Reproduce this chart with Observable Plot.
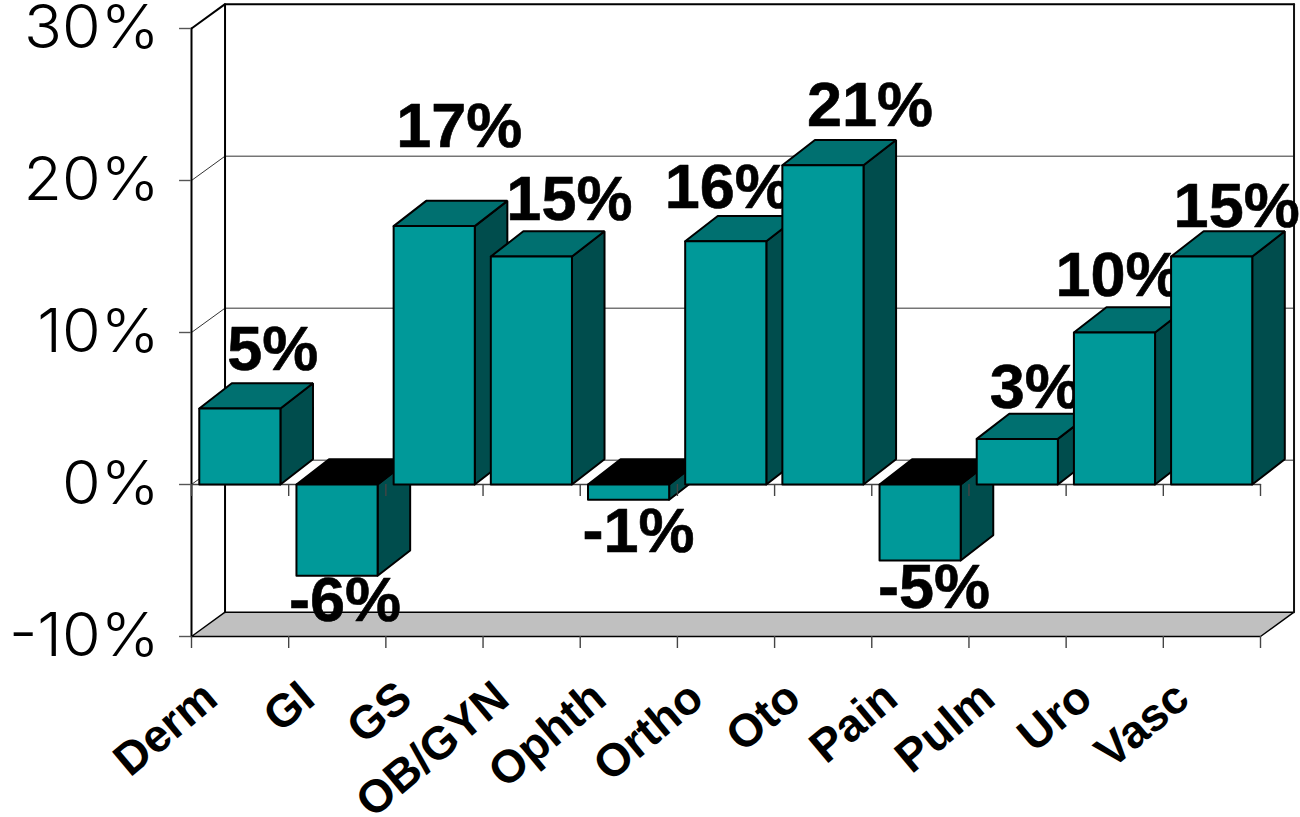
<!DOCTYPE html>
<html>
<head>
<meta charset="utf-8">
<style>
  html, body { margin: 0; padding: 0; background: #fff; }
  svg { display: block; }
</style>
<script src="https://cdn.jsdelivr.net/npm/d3@7"></script>
<script src="https://cdn.jsdelivr.net/npm/@observablehq/plot@0.6"></script>
</head>
<body>
<script>
// Change by specialty, percent
const specialties = ["Derm", "GI", "GS", "OB/GYN", "Ophth", "Ortho", "Oto", "Pain", "Pulm", "Uro", "Vasc"];
const changes = [5, -6, 17, 15, -1, 16, 21, -5, 3, 10, 15];
const axisTicks = [-10, 0, 10, 20, 30];

// Pixel nudges for each bar's value label, [dx, dy]
const labelNudges = [[33, -39], [8, 45], [25, -79], [38, -37], [10, 52], [2, -33], [47, -39], [14, 47], [18, -31], [4, -37], [25, -30]];

// Oblique projection, expressed in scale units
const wallDepth = {x: 0.345, y: 1.6};
const barDepth = {x: 0.335, y: 1.66};
const barInset = 0.08;
const barWidth = 0.835;
const tickX = 0.123;
const tickY = 0.79;
const yMin = axisTicks[0];
const yMax = axisTicks[axisTicks.length - 1];
const xMax = specialties.length;

const colors = {front: "#009999", top: "#007070", side: "#004d4d", floor: "#c0c0c0", under: "#000000"};
const valueFont = {fontFamily: "Liberation Sans", fontWeight: "bold", fontSize: 63, fill: "#000", stroke: "#000", strokeWidth: 0.6};

// A closed polygon face drawn through the chart's x and y scales
const face = (points, fill, strokeWidth = 2) =>
  Plot.line([...points, points[0]], {x: "0", y: "1", fill, stroke: "#000", strokeWidth, strokeLinejoin: "miter", curve: "linear"});

const segment = (points, stroke = "#000", strokeWidth = 1) =>
  Plot.line(points, {x: "0", y: "1", stroke, strokeWidth, curve: "linear"});

// Back walls, floor and gridlines
const frame = [
  face([[0, yMin], [xMax, yMin], [xMax + wallDepth.x, yMin + wallDepth.y], [wallDepth.x, yMin + wallDepth.y]], colors.floor, 1.4),
  ...axisTicks.slice(1, -1).map((t) => segment([[0, t], [wallDepth.x, t + wallDepth.y], [xMax + wallDepth.x, t + wallDepth.y]], "#333", 1)),
  segment([[0, yMax], [wallDepth.x, yMax + wallDepth.y], [xMax + wallDepth.x, yMax + wallDepth.y]], "#000", 2),
  segment([[0, yMin], [0, yMax]], "#000", 2),
  segment([[wallDepth.x, yMin + wallDepth.y], [wallDepth.x, yMax + wallDepth.y]], "#000", 2),
  segment([[xMax + wallDepth.x, yMin + wallDepth.y], [xMax + wallDepth.x, yMax + wallDepth.y]], "#111", 2),
  segment([[0, 0], [xMax, 0]], "#444", 1.4)
];

// Each bar is followed by its label, so the next bar can overlap that label
const bars = specialties.flatMap((name, i) => {
  const v = changes[i];
  const x0 = i + barInset;
  const x1 = x0 + barWidth;
  const dx = barDepth.x;
  const dy = barDepth.y;
  const top = Math.max(v, 0);
  const bottom = Math.min(v, 0);
  return [
    face([[x1, bottom], [x1 + dx, bottom + dy], [x1 + dx, top + dy], [x1, top]], colors.side),
    face([[x0, top], [x1, top], [x1 + dx, top + dy], [x0 + dx, top + dy]], v < 0 ? colors.under : colors.top),
    face([[x0, bottom], [x1, bottom], [x1, top], [x0, top]], colors.front),
    Plot.text([v], {
      x: i + barInset + barWidth / 2,
      y: (d) => d,
      text: (d) => `${d}%`,
      dx: labelNudges[i][0],
      dy: labelNudges[i][1],
      lineAnchor: "bottom",
      ...valueFont
    })
  ];
});

const categoryTicks = d3.range(0, xMax + 1);

const chart = Plot.plot({
  width: 1300,
  height: 817,
  marginLeft: 191,
  marginRight: 40,
  marginTop: 28,
  marginBottom: 181,
  x: {type: "linear", domain: [0, xMax], axis: null},
  y: {type: "linear", domain: [yMin, yMax], axis: null},
  style: {background: "#fff", overflow: "visible"},
  marks: [
    ...frame,
    ...bars,
    // Category ticks on the zero line and below the floor
    Plot.ruleX(categoryTicks, {y1: 0, y2: -tickY, stroke: "#444", strokeWidth: 1.4}),
    Plot.ruleX(categoryTicks, {y1: yMin, y2: yMin - tickY, stroke: "#444", strokeWidth: 1.4}),
    // Value axis ticks and labels
    Plot.ruleY(axisTicks, {x1: -tickX, x2: 0, stroke: "#555", strokeWidth: 1.4}),
    Plot.text(axisTicks, {
      x: 0,
      y: (d) => d,
      text: (d) => `${d}%`,
      dx: -32,
      textAnchor: "end",
      lineAnchor: "middle",
      fontFamily: "Inter",
      fontWeight: 300,
      fontSize: 60,
      fill: "#000",
      className: "value-axis-label"
    }),
    // Slanted category labels
    Plot.text(specialties, {
      x: (d, i) => i + 0.5,
      y: yMin,
      text: (d) => d,
      dx: -20,
      dy: 66,
      rotate: -40,
      textAnchor: "end",
      lineAnchor: "bottom",
      fontFamily: "Liberation Sans",
      fontWeight: "bold",
      fontSize: 46,
      fill: "#000"
    })
  ]
});

document.body.append(chart);

// Widen the value axis labels a little; the face has no wider cut
chart.querySelectorAll(".value-axis-label text").forEach((label) => {
  label.setAttribute("textLength", label.getComputedTextLength() * 1.045);
  label.setAttribute("lengthAdjust", "spacingAndGlyphs");
});
</script>
</body>
</html>
